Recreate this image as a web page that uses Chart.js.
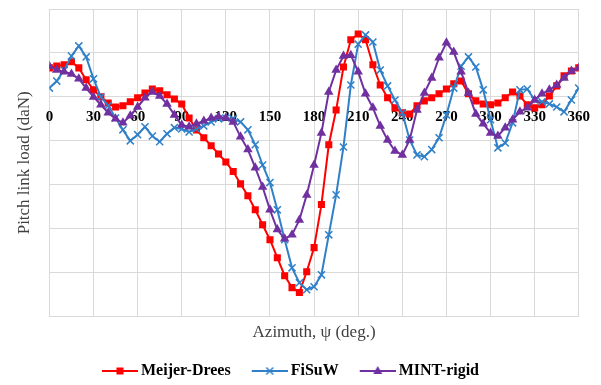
<!DOCTYPE html>
<html>
<head>
<meta charset="utf-8">
<script src="https://cdn.jsdelivr.net/npm/chart.js@4.4.0/dist/chart.umd.min.js"></script>
<style>
  html, body { margin: 0; padding: 0; background: #fff; }
  #wrap { width: 601px; height: 385px; }
</style>
</head>
<body>
<div id="wrap"><canvas id="myChart" width="601" height="385"></canvas></div>
<script>

// azimuth (deg.), one point every 5 degrees
const azimuth = [0, 5, 10, 15, 20, 25, 30, 35, 40, 45, 50, 55,
    60, 65, 70, 75, 80, 85, 90, 95, 100, 105, 110, 115,
    120, 125, 130, 135, 140, 145, 150, 155, 160, 165, 170, 175,
    180, 185, 190, 195, 200, 205, 210, 215, 220, 225, 230, 235,
    240, 245, 250, 255, 260, 265, 270, 275, 280, 285, 290, 295,
    300, 305, 310, 315, 320, 325, 330, 335, 340, 345, 350, 355,
    360];

// pitch link load
const meijerDrees = [6.6, 7.0, 7.3, 8.0, 6.6, 3.9, 1.6, 0, -1.4, -2.3, -2.0, -1.1,
    -0.2, 0.9, 1.8, 1.4, 0.5, -0.5, -1.6, -4.8, -7.5, -9.3, -11.1, -13.0,
    -14.8, -17.0, -19.8, -22.5, -25.7, -29.1, -32.5, -36.6, -40.7, -43.4, -44.5, -39.8,
    -34.3, -24.5, -10.9, -3.0, 6.8, 13.0, 14.3, 13.0, 7.3, 2.7, -0.2, -2.5,
    -3.6, -3.9, -2.0, -0.9, -0.2, 0.7, 1.8, 3.0, 3.6, 0.7, -0.9, -1.6,
    -1.8, -1.4, -0.2, 1.1, 0.2, -1.8, -2.5, -1.8, 0.2, 2.5, 4.8, 5.9,
    6.6];

const fisuw = [2.0, 3.6, 6.1, 9.3, 11.6, 9.1, 4.1, 0, -2.0, -4.8, -7.5, -10.0,
    -8.6, -6.8, -8.9, -10.2, -8.4, -7.0, -7.3, -8.0, -7.3, -6.6, -5.7, -5.0,
    -4.8, -5.0, -5.7, -7.5, -10.9, -15.5, -19.5, -25.7, -32.5, -38.9, -42.3, -43.9,
    -43.2, -40.5, -31.4, -22.3, -11.4, 2.7, 12.0, 14.1, 12.5, 6.1, 2.5, -0.7,
    -3.6, -9.8, -13.2, -13.6, -12.0, -9.3, -4.1, 2.0, 7.0, 9.1, 6.8, 1.6,
    -5.2, -11.6, -10.5, -5.9, 1.6, 1.8, -0.7, -1.1, -1.6, -2.3, -3.4, -0.7,
    2.0];

const mintRigid = [7.0, 6.1, 5.7, 5.2, 4.1, 2.0, 0, -1.8, -3.6, -5.0, -5.9, -4.3,
    -2.3, -0.2, 1.1, 0.2, -1.6, -4.1, -6.4, -6.8, -6.1, -5.5, -4.8, -4.5,
    -4.8, -5.7, -9.1, -12.0, -16.1, -20.5, -25.7, -30.2, -32.3, -31.4, -28.0, -22.3,
    -15.5, -8.2, 1.1, 6.1, 9.3, 9.5, 5.7, 0.7, -2.5, -6.6, -9.8, -12.3,
    -13.2, -9.8, -3.0, 0.9, 4.3, 8.9, 12.3, 10.2, 5.7, 0.9, -3.9, -6.1,
    -8.2, -8.9, -7.0, -5.2, -3.4, -2.5, -0.7, 0.7, 1.6, 2.7, 4.3, 5.9,
    6.6];

const seriesNames = ['Meijer-Drees', 'FiSuW', 'MINT-rigid'];
const seriesColors = ['#ff0000', '#2f80c8', '#7030a0'];

// axis limits (no y labels shown in the original)
const xMin = 0, xMax = 360, xStep = 30;
const yMin = -50, yMax = 20, yStep = 10;

const gridColor = '#d9d9d9';

Chart.defaults.font.family = "'Liberation Serif', 'Times New Roman', serif";

function toPoints(values) {
    return values.map((v, i) => ({ x: azimuth[i], y: v }));
}

// little line + marker picture for the legend, like Excel does
function legendSymbol(color, marker) {
    const c = document.createElement('canvas');
    c.width = 42;
    c.height = 16;
    const ctx = c.getContext('2d');
    const cy = 8, cx = 24;
    ctx.strokeStyle = color;
    ctx.fillStyle = color;
    ctx.lineWidth = 2;
    ctx.beginPath();
    ctx.moveTo(6, cy);
    ctx.lineTo(42, cy);
    ctx.stroke();
    if (marker === 'rect') {
        ctx.fillRect(cx - 3.5, cy - 3.5, 7, 7);
    } else if (marker === 'crossRot') {
        ctx.lineWidth = 1.5;
        ctx.beginPath();
        ctx.moveTo(cx - 3.5, cy - 3.5); ctx.lineTo(cx + 3.5, cy + 3.5);
        ctx.moveTo(cx - 3.5, cy + 3.5); ctx.lineTo(cx + 3.5, cy - 3.5);
        ctx.stroke();
    } else {
        ctx.beginPath();
        ctx.moveTo(cx, cy - 5);
        ctx.lineTo(cx + 4.5, cy + 3);
        ctx.lineTo(cx - 4.5, cy + 3);
        ctx.closePath();
        ctx.fill();
    }
    return c;
}

const legendSymbols = [
    legendSymbol(seriesColors[0], 'rect'),
    legendSymbol(seriesColors[1], 'crossRot'),
    legendSymbol(seriesColors[2], 'triangle')
];

let myChart;

function createChart() {
    const ctx = document.getElementById('myChart').getContext('2d');
    myChart = new Chart(ctx, {
        type: 'line',
        data: {
            datasets: [
                {
                    label: seriesNames[0],
                    data: toPoints(meijerDrees),
                    borderColor: seriesColors[0],
                    backgroundColor: seriesColors[0],
                    borderWidth: 2,
                    pointStyle: 'rect',
                    pointRadius: 5,
                    pointBorderWidth: 0,
                    order: 3
                },
                {
                    label: seriesNames[1],
                    data: toPoints(fisuw),
                    borderColor: seriesColors[1],
                    backgroundColor: seriesColors[1],
                    borderWidth: 2,
                    pointStyle: 'crossRot',
                    pointRadius: 5,
                    pointBorderWidth: 1.5,
                    order: 2
                },
                {
                    label: seriesNames[2],
                    data: toPoints(mintRigid),
                    borderColor: seriesColors[2],
                    backgroundColor: seriesColors[2],
                    borderWidth: 2,
                    pointStyle: 'triangle',
                    pointRadius: 5.5,
                    pointBorderWidth: 0,
                    order: 1
                }
            ]
        },
        options: {
            responsive: false,
            animation: false,
            devicePixelRatio: 1,
            layout: {
                padding: { left: 0, right: 21, top: 9, bottom: -4 }
            },
            scales: {
                x: {
                    type: 'linear',
                    position: { y: 0 },   // labels sit on the zero line
                    min: xMin,
                    max: xMax,
                    ticks: {
                        stepSize: xStep,
                        color: '#000',
                        padding: 11,
                        maxRotation: 0,
                        font: { size: 15, weight: 'bold' }
                    },
                    grid: { color: gridColor, drawTicks: false },
                    border: { display: false }
                },
                x2: {
                    type: 'linear',
                    axis: 'x',
                    position: 'bottom',
                    min: xMin,
                    max: xMax,
                    ticks: { display: false },
                    grid: { display: false, drawTicks: false },
                    border: { display: false },
                    title: {
                        display: true,
                        text: 'Azimuth, ψ (deg.)',
                        color: '#404040',
                        font: { size: 17 },
                        padding: { top: 6, bottom: 0 }
                    }
                },
                y: {
                    min: yMin,
                    max: yMax,
                    ticks: { display: false, stepSize: yStep },
                    grid: { color: gridColor, drawTicks: false },
                    border: { display: false },
                    title: {
                        display: true,
                        text: 'Pitch link load (daN)',
                        color: '#404040',
                        font: { size: 17 },
                        padding: { top: 14, bottom: 15 }
                    }
                }
            },
            plugins: {
                tooltip: { enabled: false },
                legend: {
                    display: true,
                    position: 'bottom',
                    labels: {
                        usePointStyle: true,
                        pointStyleWidth: 32,
                        padding: 20,
                        color: '#000',
                        font: { size: 16, weight: 'bold' },
                        generateLabels: function (chart) {
                            return chart.data.datasets.map(function (ds, i) {
                                return {
                                    text: ds.label,
                                    fillStyle: ds.borderColor,
                                    strokeStyle: ds.borderColor,
                                    lineWidth: 0,
                                    pointStyle: legendSymbols[i],
                                    hidden: !chart.isDatasetVisible(i),
                                    datasetIndex: i
                                };
                            });
                        }
                    }
                }
            }
        }
    });
}

window.onload = function () {
    createChart();
};
</script>
</body>
</html>
